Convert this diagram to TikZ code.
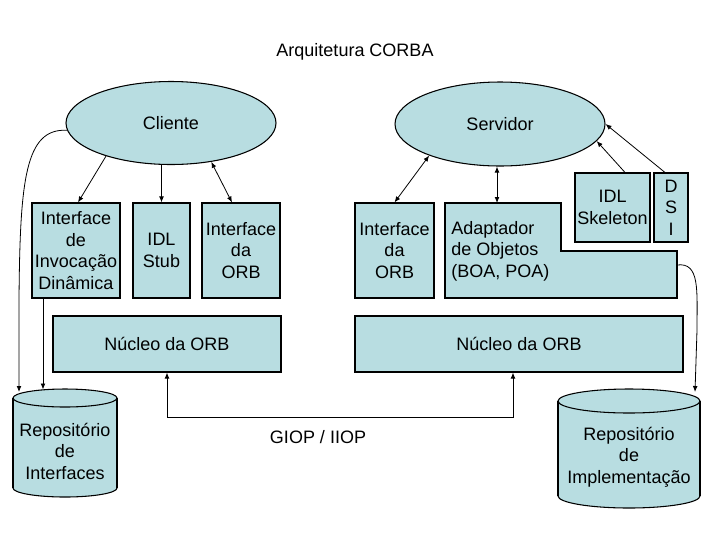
\documentclass[tikz,border=0pt]{standalone}
\usepackage{fontspec}
\setmainfont{Liberation Sans}
\usetikzlibrary{arrows.meta,shapes.geometric,calc}
\definecolor{boxfill}{RGB}{184,221,225}
\begin{document}
\begin{tikzpicture}[x=0.75pt,y=-0.75pt,
  txt/.style={font=\fontsize{13.5pt}{16.1pt}\selectfont, align=center, inner sep=0pt},
  blk/.style={txt, draw=black, line width=0.8pt, fill=boxfill},
  ell/.style={blk, ellipse},
  conn/.style={line width=0.6pt, -{Latex[length=4.5pt,width=3.6pt]}},
  dconn/.style={line width=0.6pt, {Latex[length=4.5pt,width=3.6pt]}-{Latex[length=4.5pt,width=3.6pt]}}]
\useasboundingbox[fill=white] (0,0) rectangle (720,540);

\node[txt] (title) at (355,52) {Arquitetura CORBA};

% ellipses
\node[ell, minimum width=157.5pt, minimum height=62.25pt] (cl) at (171,123) {Cliente};
\node[ell, minimum width=157.5pt, minimum height=63pt] (sv) at (500,124) {Servidor};

% client boxes
\node[blk, minimum width=66pt, minimum height=71.25pt] (inv) at (76,250.5) {Interface\\de\\Invoca\c{c}\~ao\\Din\^amica};
\node[blk, minimum width=42.75pt, minimum height=71.25pt] (stub) at (161.5,250.5) {IDL\\Stub};
\node[blk, minimum width=58.5pt, minimum height=71.25pt] (iorbL) at (241,250.5) {Interface\\da\\ORB};

% server boxes
\node[blk, minimum width=59.25pt, minimum height=71.25pt] (iorbR) at (394.5,250.5) {Interface\\da\\ORB};
\filldraw[draw=black, line width=0.8pt, fill=boxfill] (445,203) -- (561,203) -- (561,251) -- (677,251) -- (677,298) -- (445,298) -- cycle;
\node[txt, anchor=west, align=left] (ad) at (451,251) {Adaptador\\de Objetos\\(BOA, POA)};
\coordinate (adtop) at (497,203);
\coordinate (adr) at (677,265);
\node[blk, minimum width=56.25pt, minimum height=51.75pt] (skel) at (612.5,207.5) {IDL\\Skeleton};
\node[blk, minimum width=25.5pt, minimum height=51.75pt] (dsi) at (671,207.5) {D\\S\\I};

% ORB cores
\node[blk, minimum width=171pt, minimum height=42pt] (nucL) at (167,344) {N\'ucleo da ORB};
\node[blk, minimum width=246pt, minimum height=42pt] (nucR) at (519,344) {N\'ucleo da ORB};

% left cylinder
\fill[boxfill] (13,398) rectangle (117,488);
\filldraw[draw=black, line width=0.8pt, fill=boxfill] (65,488) ellipse (52 and 9);
\fill[boxfill] (13.4,398) rectangle (116.6,488);
\draw[line width=0.8pt] (13,398) -- (13,488) (117,398) -- (117,488);
\filldraw[draw=black, line width=0.8pt, fill=boxfill] (65,398) ellipse (52 and 9);
\node[txt] (repI) at (65,451) {Reposit\'orio\\de\\Interfaces};
\coordinate (ri1) at (19,392);
\coordinate (ri2) at (43,389.5);

% right cylinder
\filldraw[draw=black, line width=0.8pt, fill=boxfill] (629,496) ellipse (71 and 12);
\fill[boxfill] (558.4,401) rectangle (699.6,496);
\draw[line width=0.8pt] (558,401) -- (558,496) (700,401) -- (700,496);
\filldraw[draw=black, line width=0.8pt, fill=boxfill] (629,401) ellipse (71 and 12);
\node[txt] (repM) at (629,457) {Reposit\'orio\\de\\Implementa\c{c}\~ao};
\coordinate (rim) at (695,392);

% connectors
\draw[conn] (cl.207) -- ([xshift=1.5pt]inv.north);
\draw[conn] (stub.north |- cl.south) -- (stub.north);
\draw[dconn] (cl.-44) -- ([xshift=-6.75pt]iorbL.north);
\draw[dconn] (sv.204) -- (iorbR.north);
\draw[dconn] (adtop |- sv.south) -- (adtop);
\draw[conn] ([xshift=9.4pt]skel.north) -- (sv.-10);
\draw[conn] ([xshift=-4.5pt]dsi.north) -- (sv.east);
\draw[conn] (cl.184) .. controls (25,128) and (20,180) .. (19,300) -- (ri1);
\draw[conn] (ri2 |- inv.south) -- (ri2);
\draw[conn] (adr) .. controls (700,262) and (697,290) .. (697,330) -- (rim);
\draw[dconn] (nucL.south) -- ++(0,45) coordinate (g1) -| ([xshift=-4.5pt]nucR.south);
\node[txt] (giop) at (318,437) {GIOP / IIOP};
\end{tikzpicture}
\end{document}
